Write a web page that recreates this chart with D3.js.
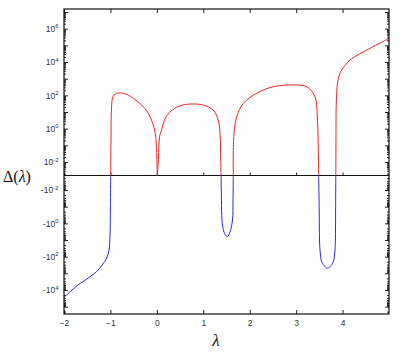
<!DOCTYPE html>
<html>
<head>
<meta charset="utf-8">
<script src="https://cdn.jsdelivr.net/npm/d3@7"></script>
<style>
body { margin: 0; background: #fff; }
.tick text { font-family: 'Liberation Sans', Arial, sans-serif; }
</style>
</head>
<body>
<div class="chart"></div>
<script>
// Delta(lambda); 0 marks a root (curve meets the zero line)
const lambda = [
  -2.0, -1.85, -1.70, -1.57, -1.44, -1.30, -1.18, -1.08, -1.03, -1.01, -1.0, -0.995,
  -0.988, -0.979, -0.955, -0.923, -0.865, -0.79, -0.723, -0.62, -0.507, -0.327, -0.184, -0.09, -0.035, -0.01, 0.01,
  0.03, 0.06, 0.10, 0.165, 0.27, 0.49, 0.71, 1.0, 1.215, 1.32, 1.36, 1.375, 1.382,
  1.392, 1.403, 1.446, 1.517, 1.575, 1.629, 1.64, 1.646,
  1.657, 1.72, 1.862, 2.15, 2.508, 2.939, 3.227, 3.406, 3.455, 3.475, 3.485,
  3.497, 3.503, 3.514, 3.55, 3.622, 3.672, 3.73, 3.80, 3.837, 3.845, 3.850, 3.854,
  3.857, 3.861, 3.87, 3.89, 3.93, 3.98, 4.16, 4.59, 5.0
]
const delta = [
  -2.75e4, -1.15e4, -5.0e3, -2.9e3, -1.6e3, -800, -320, -120, -40, -6.3, -0.1, 0,
  0.21, 13, 69, 105, 133, 140, 133, 105, 66, 26, 8.4, 2.1, 0.53, 0.08, 0,
  0.01, 0.33, 0.83, 3.3, 9.4, 23, 30, 26, 13, 3.3, 0.53, 0.013, 0,
  -0.04, -0.63, -3.3, -6.3, -3.3, -0.63, -0.04, 0,
  0.33, 5.2, 33, 133, 330, 420, 330, 83, 5.2, 0.13, 0,
  -0.16, -10, -40, -200, -400, -500, -400, -200, -40, -10, -0.16, 0,
  0.053, 13, 83, 530, 1660, 3300, 1.3e4, 6.6e4, 2.6e5
]

const xTicks = [-2, -1, 0, 1, 2, 3, 4]
const posLabelExp = [-2, 0, 2, 4, 6]
const negLabelExp = [-2, 0, 2, 4]

const svgWidth = 402, svgHeight = 352
const margin = { top: 9, left: 64, right: 13, bottom: 38 }
const width = svgWidth - margin.left - margin.right
const height = svgHeight - margin.top - margin.bottom
const zeroY = 166.5

const svg = d3.select('.chart').append('svg')
  .attr('width', svgWidth)
  .attr('height', svgHeight)

const chartGroup = svg.append('g')
  .attr('transform', `translate(${margin.left}, ${margin.top})`)

const xScale = d3.scaleLinear().domain([-2, 5]).range([0, width])
const posMin = Math.pow(10, -2.81), negMin = Math.pow(10, -2.87)
const posScale = d3.scaleLog().domain([posMin, Math.pow(10, 7.18)]).range([zeroY, 0]).clamp(true)
const negScale = d3.scaleLog().domain([negMin, Math.pow(10, 5.44)]).range([zeroY, height]).clamp(true)

function yOf(v) {
  if (v > 0) return posScale(v)
  if (v < 0) return negScale(-v)
  return zeroY
}

// decade and minor ticks for a log scale
function logTicks(scale) {
  const [lo, hi] = scale.domain()
  const major = [], minor = []
  for (let k = -4; k <= 8; k++) {
    for (let m = 1; m <= 9; m++) {
      const v = m * Math.pow(10, k)
      if (v < lo || v > hi) continue
      if (m == 1) major.push(v); else minor.push(v)
    }
  }
  return { major, minor }
}

function tidy(g) {
  g.select('.domain').remove()
  g.selectAll('.tick line').attr('stroke', '#222')
  g.selectAll('.tick text').attr('fill', '#333').attr('font-size', '8.5px')
}

// Y ticks on both sides
for (const scale of [posScale, negScale]) {
  const t = logTicks(scale)
  for (const side of ['left', 'right']) {
    const mk = side == 'left' ? d3.axisLeft : d3.axisRight
    const tx = side == 'left' ? 0 : width
    chartGroup.append('g').attr('transform', `translate(${tx},0)`)
      .call(mk(scale).tickValues(t.minor).tickSize(-2).tickFormat(''))
      .call(tidy)
    chartGroup.append('g').attr('transform', `translate(${tx},0)`)
      .call(mk(scale).tickValues(t.major).tickSize(-4).tickFormat(''))
      .call(tidy)
  }
}

// Y labels with superscripts
function labelAxis(scale, exps, sign) {
  const g = chartGroup.append('g')
    .call(d3.axisLeft(scale).tickValues(exps.map(e => Math.pow(10, e))).tickSize(0).tickPadding(5.5))
    .call(tidy)
  g.selectAll('.tick text').each(function(d) {
    const t = d3.select(this)
    t.text(null)
    t.append('tspan').text(sign + '10')
    t.append('tspan').attr('dy', '-3.5').attr('font-size', '6px').text(Math.round(Math.log10(d)))
  })
}
labelAxis(posScale, posLabelExp, '')
labelAxis(negScale, negLabelExp, '-')

// X axes: bottom (labelled), top, and the zero line
chartGroup.append('g').attr('transform', `translate(0,${height})`)
  .call(d3.axisBottom(xScale).tickValues(xTicks).tickSize(-4).tickPadding(6).tickFormat(d3.format('d')))
  .call(tidy)
chartGroup.append('g')
  .call(d3.axisTop(xScale).tickValues(xTicks).tickSize(-4).tickFormat(''))
  .call(tidy)

chartGroup.append('line')
  .attr('x1', 0).attr('x2', width)
  .attr('y1', zeroY).attr('y2', zeroY)
  .attr('stroke', '#111').attr('stroke-width', 1)
chartGroup.append('g').attr('transform', `translate(0,${zeroY})`)
  .call(d3.axisTop(xScale).tickValues(xTicks).tickSize(3).tickFormat(''))
  .call(tidy)

// split into sign runs, roots shared between neighbours
const pts = lambda.map((l, i) => ({ l, v: delta[i] }))
const runs = []
let cur = [pts[0]]
for (let i = 1; i < pts.length; i++) {
  cur.push(pts[i])
  if (pts[i].v == 0) { runs.push(cur); cur = [pts[i]] }
}
if (cur.length > 1) runs.push(cur)

const line = d3.line()
  .x(d => xScale(d.l))
  .y(d => yOf(d.v))
  .curve(d3.curveCatmullRom.alpha(0.5))

chartGroup.selectAll('.run')
  .data(runs)
  .enter()
  .append('path')
  .attr('d', line)
  .attr('fill', 'none')
  .attr('stroke', r => r.some(p => p.v > 0) ? '#ee2222' : '#2a2ae0')
  .attr('stroke-width', 1)

// frame
chartGroup.append('rect')
  .attr('width', width).attr('height', height)
  .attr('fill', 'none').attr('stroke', '#111').attr('stroke-width', 1.2)

// axis titles
svg.append('text')
  .attr('x', 3).attr('y', 182)
  .style('font-family', "'Liberation Serif', 'DejaVu Serif', serif")
  .style('font-size', '16px')
  .attr('fill', '#111')
  .html('Δ(<tspan font-style="italic">λ</tspan>)')

svg.append('text')
  .attr('x', 216).attr('y', 346)
  .attr('text-anchor', 'middle')
  .style('font-family', "'Liberation Serif', 'DejaVu Serif', serif")
  .style('font-size', '17px')
  .style('font-style', 'italic')
  .attr('fill', '#111')
  .text('λ')
</script>
</body>
</html>
